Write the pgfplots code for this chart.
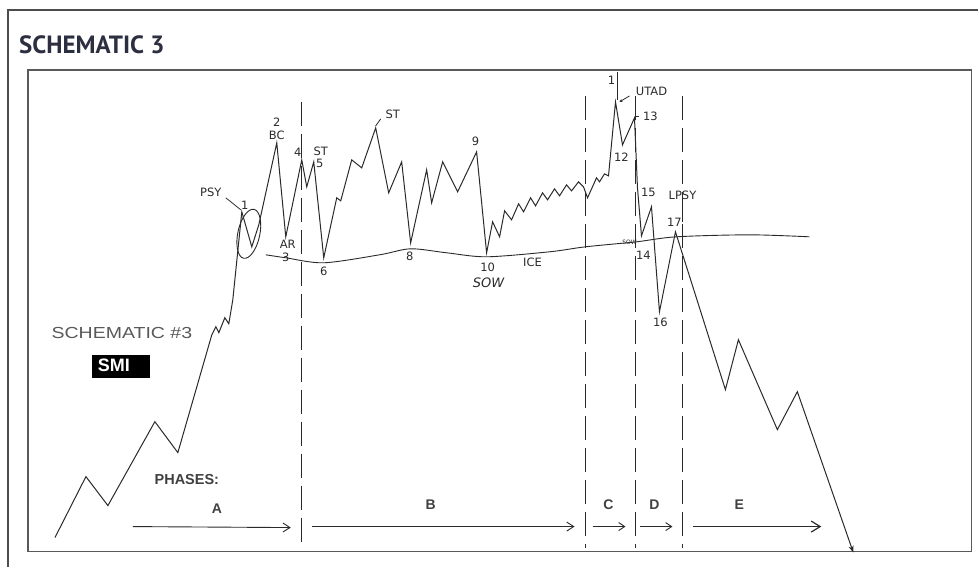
\documentclass[border=0pt]{standalone}
\usepackage{pgfplots}
\pgfplotsset{compat=1.18}
\usetikzlibrary{arrows.meta}
\usepackage{fontspec}
\setmainfont{Liberation Sans}
\newfontfamily\titlefont{PT Sans}
\newfontfamily\handfont{DejaVu Sans}
\definecolor{ink}{HTML}{2A2A2A}
\definecolor{titlecol}{HTML}{2B2F40}
\tikzset{lbl/.style={font=\handfont\fontsize{11.5}{11.5}\selectfont, text=ink, inner sep=0pt}}
\begin{document}
\begin{tikzpicture}
\begin{axis}[
    scale only axis,
    width=979pt, height=567pt,
    xmin=0, xmax=979, ymin=0, ymax=567,
    y dir=reverse,
    axis lines=none,
    clip=false,
    every axis plot/.append style={ink, line width=1pt},
]
% frames
\draw[line width=1.6pt, black!70] (axis cs:8,567) -- (axis cs:8,10) -- (axis cs:979,10);
\draw[line width=1.2pt, black!65] (axis cs:28,70) rectangle (axis cs:972,552);
\path (axis cs:0,0) rectangle (axis cs:979,567);
\node[anchor=west, font=\titlefont\bfseries\fontsize{25}{25}\selectfont, text=titlecol, inner sep=0pt] at (axis cs:19,45) {SCHEMATIC 3};

% price path
\addplot[-{Stealth[length=7pt,width=5pt]}] coordinates {
(55,538) (86,477) (108,506) (155,422) (178,453) (212,335) (216,327) (219,333)
(225,318) (229,324) (233,300) (242,212) (252,247) (259,225) (277,143) (286,237)
(302,160) (307,187) (314,162) (324,258) (337,198) (341,201) (352,160) (362,168)
(376,128) (389,193) (402,162) (411,243) (427,170) (432,203) (443,162) (458,192)
(477,152) (487,253) (493,222) (500,237) (505,211) (512,220) (519,204) (524,212)
(531,198) (536,206) (543,193) (548,200) (555,189) (560,196) (567,185) (572,191)
(579,182) (584,187) (588,198) (597,178) (600,182) (605,174) (609,176) (616,102)
(623,145) (635,118) (638,188) (642,236) (652,207) (660,312) (676,232) (726,390)
(739,340) (778,430) (798,392) (854,553)
};

% support line (ICE)
\addplot[smooth, line width=0.9pt] coordinates {
(266,255) (286,258) (324,263) (380,255) (411,249) (447,253) (487,257)
(550,252) (586,247) (637,242) (677,237) (750,235) (810,237)
};

% phase separators
\addplot[dash pattern=on 24pt off 8pt, line width=1pt] coordinates {(302,102) (302,548)};
\addplot[dash pattern=on 24pt off 8pt, line width=1pt] coordinates {(586,96) (586,548)};
\addplot[dash pattern=on 24pt off 8pt, line width=1pt] coordinates {(636,96) (636,548)};
\addplot[dash pattern=on 24pt off 8pt, line width=1pt] coordinates {(683,96) (683,548)};

% phase arrows
\addplot[line width=0.9pt, -{Straight Barb[length=7pt,width=9pt]}] coordinates {(133,527) (291,528)};
\addplot[line width=0.9pt, -{Straight Barb[length=7pt,width=9pt]}] coordinates {(312,527) (575,527)};
\addplot[line width=0.9pt, -{Straight Barb[length=6pt,width=8pt]}] coordinates {(593,527) (626,527)};
\addplot[line width=0.9pt, -{Straight Barb[length=6pt,width=8pt]}] coordinates {(641,527) (673,527)};
\addplot[line width=1.2pt, -{Straight Barb[length=9pt,width=11pt]}] coordinates {(694,527) (822,527)};

% ellipse around 1 and pointer from PSY
\draw[ink, line width=0.9pt, rotate around={-12:(axis cs:249,234)}] (axis cs:249,234) ellipse [x radius=11pt, y radius=25pt];
\draw[ink, line width=0.8pt] (axis cs:226,198) -- (axis cs:241,210);

% small pointers
\draw[ink, line width=0.8pt] (axis cs:618,72) -- (axis cs:618,100);
\draw[ink, line width=0.8pt, -{Stealth[length=3pt,width=3pt]}] (axis cs:630,96) -- (axis cs:620,102);
\draw[ink, line width=0.8pt] (axis cs:636,116) -- (axis cs:640,116);
\draw[ink, line width=0.8pt] (axis cs:683,202) -- (axis cs:683,222);
\draw[ink, line width=0.8pt] (axis cs:381,119) -- (axis cs:376,126);

% labels
\node[lbl] at (axis cs:211,192) {PSY};
\node[lbl] at (axis cs:245,205) {1};
\node[lbl] at (axis cs:277,122) {2};
\node[lbl] at (axis cs:277,135) {BC};
\node[lbl] at (axis cs:288,245) {AR};
\node[lbl] at (axis cs:286,258) {3};
\node[lbl] at (axis cs:298,152) {4};
\node[lbl] at (axis cs:321,151) {ST};
\node[lbl] at (axis cs:320,164) {5};
\node[lbl] at (axis cs:324,272) {6};
\node[lbl] at (axis cs:393,114) {ST};
\node[lbl] at (axis cs:410,257) {8};
\node[lbl] at (axis cs:476,141) {9};
\node[lbl] at (axis cs:488,268) {10};
\node[lbl, font=\handfont\itshape\fontsize{13}{13}\selectfont] at (axis cs:489,283) {SOW};
\node[lbl] at (axis cs:533,263) {ICE};
\node[lbl] at (axis cs:612,80) {1};
\node[lbl] at (axis cs:652,91) {UTAD};
\node[lbl] at (axis cs:651,116) {13};
\node[lbl] at (axis cs:622,157) {12};
\node[lbl] at (axis cs:649,193) {15};
\node[lbl] at (axis cs:683,195) {LPSY};
\node[lbl, font=\handfont\fontsize{6}{6}\selectfont] at (axis cs:630,243) {SOW};
\node[lbl] at (axis cs:644,256) {14};
\node[lbl] at (axis cs:661,323) {16};
\node[lbl] at (axis cs:675,222) {17};

% side texts
\node[inner sep=0pt, text=black!65, xscale=1.22, font=\fontsize{16}{16}\selectfont] at (axis cs:122,333) {SCHEMATIC \#3};
\fill[black] (axis cs:92,355) rectangle (axis cs:150,378);
\node[inner sep=0pt, text=white, font=\bfseries\fontsize{18}{18}\selectfont] at (axis cs:114,366) {SMI};
\node[inner sep=0pt, text=black!75, font=\bfseries\fontsize{14.5}{14.5}\selectfont] at (axis cs:187,480) {PHASES:};
\node[inner sep=0pt, text=black!75, font=\bfseries\fontsize{14}{14}\selectfont] at (axis cs:217,509) {A};
\node[inner sep=0pt, text=black!75, font=\bfseries\fontsize{14}{14}\selectfont] at (axis cs:431,505) {B};
\node[inner sep=0pt, text=black!75, font=\bfseries\fontsize{14}{14}\selectfont] at (axis cs:609,505) {C};
\node[inner sep=0pt, text=black!75, font=\bfseries\fontsize{14}{14}\selectfont] at (axis cs:655,505) {D};
\node[inner sep=0pt, text=black!75, font=\bfseries\fontsize{14}{14}\selectfont] at (axis cs:740,505) {E};
\end{axis}
\end{tikzpicture}
\end{document}
